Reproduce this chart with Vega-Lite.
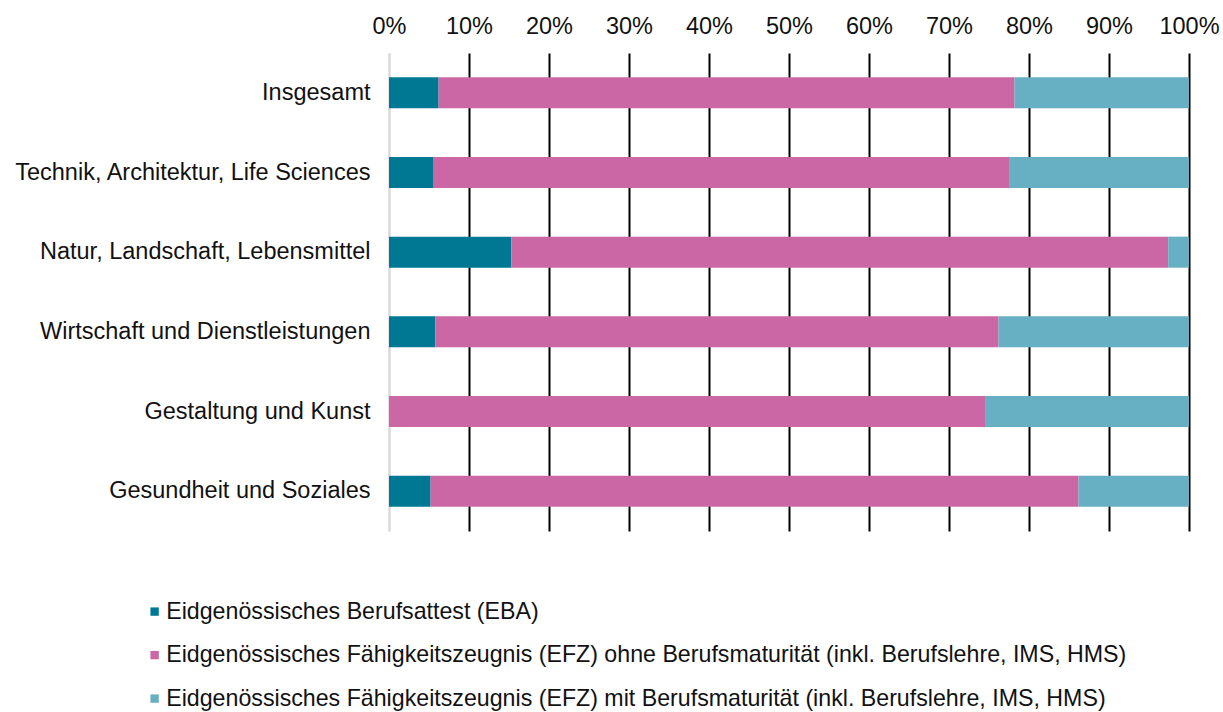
{
  "$schema": "https://vega.github.io/schema/vega-lite/v6.json",
  "width": 800,
  "height": 478,
  "autosize": "none",
  "padding": {"left": 389, "top": 53, "right": 34, "bottom": 181},
  "background": "white",
  "config": {"view": {"stroke": null}, "font": "Liberation Sans"},
  "data": {
    "values": [
      {"Bereich": "Insgesamt", "Abschluss": "Eidgenössisches Berufsattest (EBA)", "k": 1, "Anteil": 6.2},
      {"Bereich": "Insgesamt", "Abschluss": "Eidgenössisches Fähigkeitszeugnis (EFZ) ohne Berufsmaturität (inkl. Berufslehre, IMS, HMS)", "k": 2, "Anteil": 72.0},
      {"Bereich": "Insgesamt", "Abschluss": "Eidgenössisches Fähigkeitszeugnis (EFZ) mit Berufsmaturität (inkl. Berufslehre, IMS, HMS)", "k": 3, "Anteil": 21.8},
      {"Bereich": "Technik, Architektur, Life Sciences", "Abschluss": "Eidgenössisches Berufsattest (EBA)", "k": 1, "Anteil": 5.5},
      {"Bereich": "Technik, Architektur, Life Sciences", "Abschluss": "Eidgenössisches Fähigkeitszeugnis (EFZ) ohne Berufsmaturität (inkl. Berufslehre, IMS, HMS)", "k": 2, "Anteil": 72.1},
      {"Bereich": "Technik, Architektur, Life Sciences", "Abschluss": "Eidgenössisches Fähigkeitszeugnis (EFZ) mit Berufsmaturität (inkl. Berufslehre, IMS, HMS)", "k": 3, "Anteil": 22.4},
      {"Bereich": "Natur, Landschaft, Lebensmittel", "Abschluss": "Eidgenössisches Berufsattest (EBA)", "k": 1, "Anteil": 15.3},
      {"Bereich": "Natur, Landschaft, Lebensmittel", "Abschluss": "Eidgenössisches Fähigkeitszeugnis (EFZ) ohne Berufsmaturität (inkl. Berufslehre, IMS, HMS)", "k": 2, "Anteil": 82.1},
      {"Bereich": "Natur, Landschaft, Lebensmittel", "Abschluss": "Eidgenössisches Fähigkeitszeugnis (EFZ) mit Berufsmaturität (inkl. Berufslehre, IMS, HMS)", "k": 3, "Anteil": 2.6},
      {"Bereich": "Wirtschaft und Dienstleistungen", "Abschluss": "Eidgenössisches Berufsattest (EBA)", "k": 1, "Anteil": 5.8},
      {"Bereich": "Wirtschaft und Dienstleistungen", "Abschluss": "Eidgenössisches Fähigkeitszeugnis (EFZ) ohne Berufsmaturität (inkl. Berufslehre, IMS, HMS)", "k": 2, "Anteil": 70.4},
      {"Bereich": "Wirtschaft und Dienstleistungen", "Abschluss": "Eidgenössisches Fähigkeitszeugnis (EFZ) mit Berufsmaturität (inkl. Berufslehre, IMS, HMS)", "k": 3, "Anteil": 23.8},
      {"Bereich": "Gestaltung und Kunst", "Abschluss": "Eidgenössisches Berufsattest (EBA)", "k": 1, "Anteil": 0},
      {"Bereich": "Gestaltung und Kunst", "Abschluss": "Eidgenössisches Fähigkeitszeugnis (EFZ) ohne Berufsmaturität (inkl. Berufslehre, IMS, HMS)", "k": 2, "Anteil": 74.6},
      {"Bereich": "Gestaltung und Kunst", "Abschluss": "Eidgenössisches Fähigkeitszeugnis (EFZ) mit Berufsmaturität (inkl. Berufslehre, IMS, HMS)", "k": 3, "Anteil": 25.4},
      {"Bereich": "Gesundheit und Soziales", "Abschluss": "Eidgenössisches Berufsattest (EBA)", "k": 1, "Anteil": 5.2},
      {"Bereich": "Gesundheit und Soziales", "Abschluss": "Eidgenössisches Fähigkeitszeugnis (EFZ) ohne Berufsmaturität (inkl. Berufslehre, IMS, HMS)", "k": 2, "Anteil": 81.0},
      {"Bereich": "Gesundheit und Soziales", "Abschluss": "Eidgenössisches Fähigkeitszeugnis (EFZ) mit Berufsmaturität (inkl. Berufslehre, IMS, HMS)", "k": 3, "Anteil": 13.8}
    ]
  },
  "mark": {"type": "bar"},
  "encoding": {
    "y": {
      "field": "Bereich",
      "type": "nominal",
      "sort": ["Insgesamt", "Technik, Architektur, Life Sciences", "Natur, Landschaft, Lebensmittel", "Wirtschaft und Dienstleistungen", "Gestaltung und Kunst", "Gesundheit und Soziales"],
      "scale": {"paddingInner": 0.61, "paddingOuter": 0.305},
      "axis": {
        "title": null,
        "ticks": false,
        "domainColor": "#d9d9d9",
        "domainWidth": 2,
        "labelFontSize": 23.5,
        "labelColor": "#111111",
        "labelPadding": 19,
        "labelLimit": 400
      }
    },
    "x": {
      "field": "Anteil",
      "type": "quantitative",
      "stack": "normalize",
      "scale": {"domain": [0, 1], "nice": false},
      "axis": {
        "orient": "top",
        "title": null,
        "format": ".0%",
        "values": [0, 0.1, 0.2, 0.3, 0.4, 0.5, 0.6, 0.7, 0.8, 0.9, 1],
        "domain": false,
        "ticks": false,
        "grid": true,
        "gridColor": {"condition": {"test": "datum.value === 0", "value": "#d9d9d9"}, "value": "#000000"},
        "gridWidth": 2,
        "labelFontSize": 23.5,
        "labelColor": "#111111",
        "labelPadding": 15,
        "labelOverlap": false,
        "labelFlush": false
      }
    },
    "color": {
      "field": "Abschluss",
      "type": "nominal",
      "sort": ["Eidgenössisches Berufsattest (EBA)", "Eidgenössisches Fähigkeitszeugnis (EFZ) ohne Berufsmaturität (inkl. Berufslehre, IMS, HMS)", "Eidgenössisches Fähigkeitszeugnis (EFZ) mit Berufsmaturität (inkl. Berufslehre, IMS, HMS)"],
      "scale": {"range": ["#007894", "#CB67A5", "#67AFC2"]},
      "legend": {
        "orient": "none",
        "legendX": -246,
        "legendY": 547,
        "title": null,
        "symbolType": "square",
        "symbolSize": 70,
        "symbolStrokeWidth": 0,
        "symbolOpacity": 1,
        "labelFontSize": 23.2,
        "labelColor": "#111111",
        "labelLimit": 1100,
        "rowPadding": 19.5,
        "labelOffset": 0
      }
    },
    "order": {"field": "k", "type": "quantitative"}
  }
}
